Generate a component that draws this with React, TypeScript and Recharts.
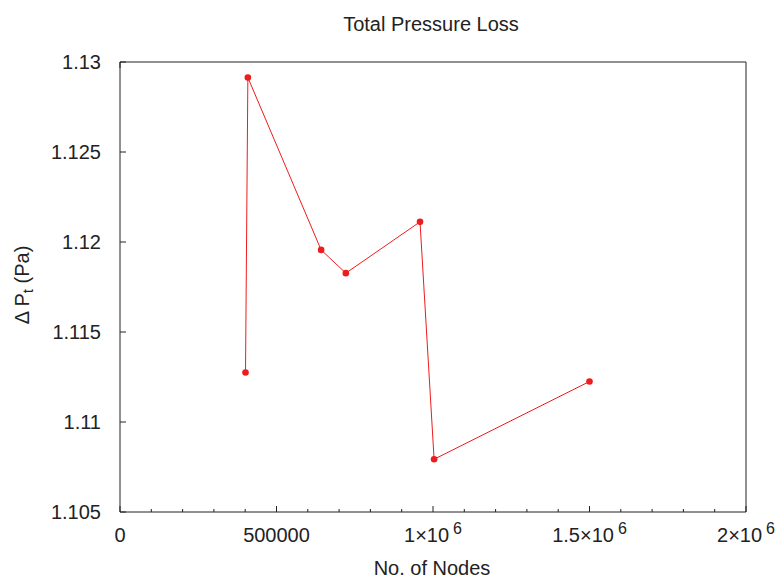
import { Line, LineChart, XAxis, YAxis } from "recharts";

const NODES = [401000, 408500, 642500, 721500, 958500, 1003500, 1500000];
const DP = [1.11275, 1.12914, 1.11956, 1.11827, 1.12112, 1.10793, 1.11225];

const X_TICKS = [
  0, 100000, 200000, 300000, 400000, 500000, 600000, 700000, 800000, 900000, 1000000,
  1100000, 1200000, 1300000, 1400000, 1500000, 1600000, 1700000, 1800000, 1900000, 2000000,
];
const X_MAJOR = [0, 500000, 1000000, 1500000, 2000000];
const X_LABELS = ["0", "500000", "1×10", "1.5×10", "2×10"];
const X_EXP = ["", "", "6", "6", "6"];
const Y_TICKS = [1.105, 1.11, 1.115, 1.12, 1.125, 1.13];
const Y_LABELS = ["1.105", "1.11", "1.115", "1.12", "1.125", "1.13"];

const RED = "#ee1c1c";
const AXIS = "#222";
const TEXT = "#222";
const FONT = "'Liberation Sans', Arial, sans-serif";

const data = NODES.map((n, i) => ({ nodes: n, dp: DP[i] }));

function BottomTick({ x, y, payload }: any) {
  const v = payload.value;
  const mi = X_MAJOR.indexOf(v);
  const len = mi >= 0 ? 6 : 3;
  return (
    <g>
      <line x1={x} x2={x} y1={y} y2={y - len} stroke={AXIS} />
      {mi >= 0 && (
        <text x={x} y={y + 29.5} textAnchor="middle" fontSize={20} fontFamily={FONT} fill={TEXT}>
          {X_LABELS[mi]}
          {X_EXP[mi] && (
            <tspan dx={4} dy={-8} fontSize={16}>
              {X_EXP[mi]}
            </tspan>
          )}
        </text>
      )}
    </g>
  );
}

function TopTick({ x, y, payload }: any) {
  const len = X_MAJOR.includes(payload.value) ? 6 : 3;
  return <line x1={x} x2={x} y1={y} y2={y + len} stroke={AXIS} />;
}

function LeftTick({ x, y, index }: any) {
  return (
    <g>
      <line x1={x} x2={x + 6} y1={y} y2={y} stroke={AXIS} />
      <text x={x - 19} y={y + 7} textAnchor="end" fontSize={20} fontFamily={FONT} fill={TEXT}>
        {Y_LABELS[index]}
      </text>
    </g>
  );
}

function RightTick({ x, y }: any) {
  return <line x1={x} x2={x - 6} y1={y} y2={y} stroke={AXIS} />;
}

function Dot({ cx, cy, index }: any) {
  return <circle key={index} cx={cx} cy={cy} r={3.3} fill={RED} />;
}

export default function App() {
  return (
    <div style={{ position: "absolute", left: 0, top: 0, background: "#fff" }}>
      <LineChart width={778} height={578} data={data} margin={{ top: 0, right: 0, bottom: 0, left: 0 }}>
        <XAxis
          xAxisId="b"
          dataKey="nodes"
          type="number"
          domain={[0, 2000000]}
          ticks={X_TICKS}
          interval={0}
          tickSize={0}
          tickMargin={0}
          tickLine={false}
          axisLine={{ stroke: AXIS }}
          tick={BottomTick}
          height={66}
          label={{
            content: () => (
              <text x={432} y={575} textAnchor="middle" fontSize={20} fontFamily={FONT} fill={TEXT}>
                No. of Nodes
              </text>
            ),
          }}
        />
        <XAxis
          xAxisId="t"
          orientation="top"
          type="number"
          domain={[0, 2000000]}
          ticks={X_TICKS}
          interval={0}
          tickSize={0}
          tickMargin={0}
          tickLine={false}
          axisLine={{ stroke: AXIS }}
          tick={TopTick}
          height={62}
          label={{
            content: () => (
              <text x={431} y={31} textAnchor="middle" fontSize={20} fontFamily={FONT} fill={TEXT}>
                Total Pressure Loss
              </text>
            ),
          }}
        />
        <YAxis
          yAxisId="l"
          type="number"
          domain={[1.105, 1.13]}
          ticks={Y_TICKS}
          interval={0}
          tickSize={0}
          tickMargin={0}
          tickLine={false}
          axisLine={{ stroke: AXIS }}
          tick={LeftTick}
          width={120}
          label={{
            content: () => (
              <text
                x={29}
                y={285}
                transform="rotate(-90, 29, 285)"
                textAnchor="middle"
                fontSize={20}
                fontFamily={FONT}
                fill={TEXT}
              >
                Δ P
                <tspan fontSize={15} dy={4}>
                  t
                </tspan>
                <tspan dy={-4}> (Pa)</tspan>
              </text>
            ),
          }}
        />
        <YAxis
          yAxisId="r"
          orientation="right"
          type="number"
          domain={[1.105, 1.13]}
          ticks={Y_TICKS}
          interval={0}
          tickSize={0}
          tickMargin={0}
          tickLine={false}
          axisLine={{ stroke: AXIS }}
          tick={RightTick}
          width={32}
        />
        <Line
          xAxisId="b"
          yAxisId="l"
          dataKey="dp"
          type="linear"
          stroke={RED}
          strokeWidth={1}
          dot={Dot}
          activeDot={false}
          isAnimationActive={false}
        />
      </LineChart>
    </div>
  );
}
